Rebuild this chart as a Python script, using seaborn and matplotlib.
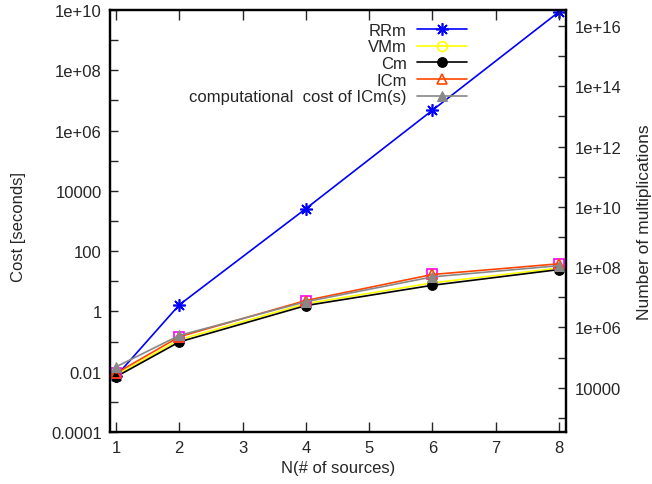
import matplotlib
matplotlib.use("Agg")
import matplotlib.pyplot as plt
import seaborn as sns
import pandas as pd

# data
n_sources = [1, 2, 4, 6, 8]

# number of multiplications (right axis)
rrm = [2.4e4, 5.6e6, 8.7e9, 1.6e13, 2.95e16]
vmm = [2.6e4, 3.9e5, 6.1e6, 3.0e7, 9.3e7]
cm = [2.3e4, 3.3e5, 5.3e6, 2.5e7, 8.3e7]
icm = [3.0e4, 4.9e5, 7.8e6, 5.7e7, 1.29e8]

# computational cost of ICm in seconds (left axis)
icm_seconds = [0.0145, 0.16, 2.1, 14, 33]

left_ticks = [1e-4, 1e-3, 1e-2, 1e-1, 1, 10, 100, 1e3, 1e4, 1e5, 1e6, 1e7, 1e8, 1e9, 1e10]
left_labels = ["0.0001", "", "0.01", "", "1", "", "100", "", "10000", "",
               "1e+06", "", "1e+08", "", "1e+10"]
right_ticks = [1e3, 1e4, 1e5, 1e6, 1e7, 1e8, 1e9, 1e10, 1e11, 1e12, 1e13, 1e14, 1e15, 1e16]
right_labels = ["", "10000", "", "1e+06", "", "1e+08", "", "1e+10", "",
                "1e+12", "", "1e+14", "", "1e+16"]
x_ticks = [1, 2, 3, 4, 5, 6, 7, 8]

sns.set_style("white")
plt.rcParams["font.family"] = ["Liberation Sans", "DejaVu Sans"]
plt.rcParams["font.size"] = 12

df = pd.DataFrame({"N": n_sources, "RRm": rrm, "VMm": vmm, "Cm": cm,
                   "ICm": icm, "sec": icm_seconds})

fig = plt.figure(figsize=(6.52, 4.85), dpi=100)
ax = fig.add_axes([0.1687, 0.1072, 0.6993, 0.8701])
ax2 = ax.twinx()

# multiplications axis uses the same decade spacing, shifted
k = 10 ** 6.53
ax.set_yscale("log")
ax2.set_yscale("log")

lw = 1.2
sns.lineplot(data=df, x="N", y="RRm", ax=ax2, color="#0000ff", lw=lw,
             marker=(8, 2, 0), markersize=9, markeredgecolor="#0000ff",
             markeredgewidth=1.2, label="RRm", legend=False)
sns.lineplot(data=df, x="N", y="VMm", ax=ax2, color="#ffff00", lw=lw,
             marker="o", markersize=7, markerfacecolor="none",
             markeredgecolor="#ffff00", markeredgewidth=1.2, label="VMm", legend=False)
sns.lineplot(data=df, x="N", y="Cm", ax=ax2, color="black", lw=lw,
             marker="o", markersize=7, markeredgecolor="black", label="Cm", legend=False)
# magenta square points drawn under the ICm markers
sns.lineplot(data=df, x="N", y="ICm", ax=ax2, color="#ff00ff", lw=0,
             marker="s", markersize=7, markerfacecolor="none",
             markeredgecolor="#ff00ff", markeredgewidth=1.2, legend=False)
sns.lineplot(data=df, x="N", y="ICm", ax=ax2, color="#ff4500", lw=lw,
             marker="^", markersize=7, markerfacecolor="none",
             markeredgecolor="#ff4500", markeredgewidth=1.2, label="ICm", legend=False)
# gray series lives on the seconds axis
sns.lineplot(data=df, x="N", y="sec", ax=ax, color="#888888", lw=lw,
             marker="^", markersize=7, markeredgecolor="#888888",
             label="computational  cost of ICm(s)", legend=False)
ax.set_zorder(ax2.get_zorder() + 1)
ax.patch.set_visible(False)

ax.set_xticks(x_ticks)
ax.set_xticklabels([str(t) for t in x_ticks])
ax.set_yticks(left_ticks)
ax.set_yticklabels(left_labels)
ax.set_yticks([], minor=True)
ax2.set_yticks(right_ticks)
ax2.set_yticklabels(right_labels)
ax2.set_yticks([], minor=True)

ax.tick_params(axis="x", direction="in", length=7, width=1, top=True,
               bottom=True, labelsize=12, pad=6)
ax.tick_params(axis="y", direction="in", length=6, width=1, left=True,
               right=False, labelsize=12, pad=6)
ax2.tick_params(axis="y", direction="in", length=6, width=1, right=True,
                labelsize=12, pad=6)
ax2.set_ylim(1e-4 * k, 1e10 * k)
ax.set_ylim(1e-4, 1e10)
ax.set_xlim(0.905, 8.11)

for a in (ax, ax2):
    for s in a.spines.values():
        s.set_linewidth(1.6)
        s.set_color("black")

ax.set_xlabel("N(# of sources)", fontsize=12, labelpad=3)
ax.set_ylabel("Cost [seconds]", fontsize=12)
ax.yaxis.set_label_coords(-0.185, 0.488)
ax2.set_ylabel("Number of multiplications", fontsize=12.5)
ax2.yaxis.set_label_coords(1.155, 0.5)

h2, l2 = ax2.get_legend_handles_labels()
h1, l1 = ax.get_legend_handles_labels()
leg = ax.legend(h2 + h1, l2 + l1, loc="upper right",
                bbox_to_anchor=(0.716, 0.951), bbox_transform=fig.transFigure,
                frameon=False, markerfirst=False, handlelength=3.0,
                handletextpad=0.6, labelspacing=0.1, borderpad=0,
                borderaxespad=0, fontsize=12)

fig.savefig("out.png", dpi=100)
